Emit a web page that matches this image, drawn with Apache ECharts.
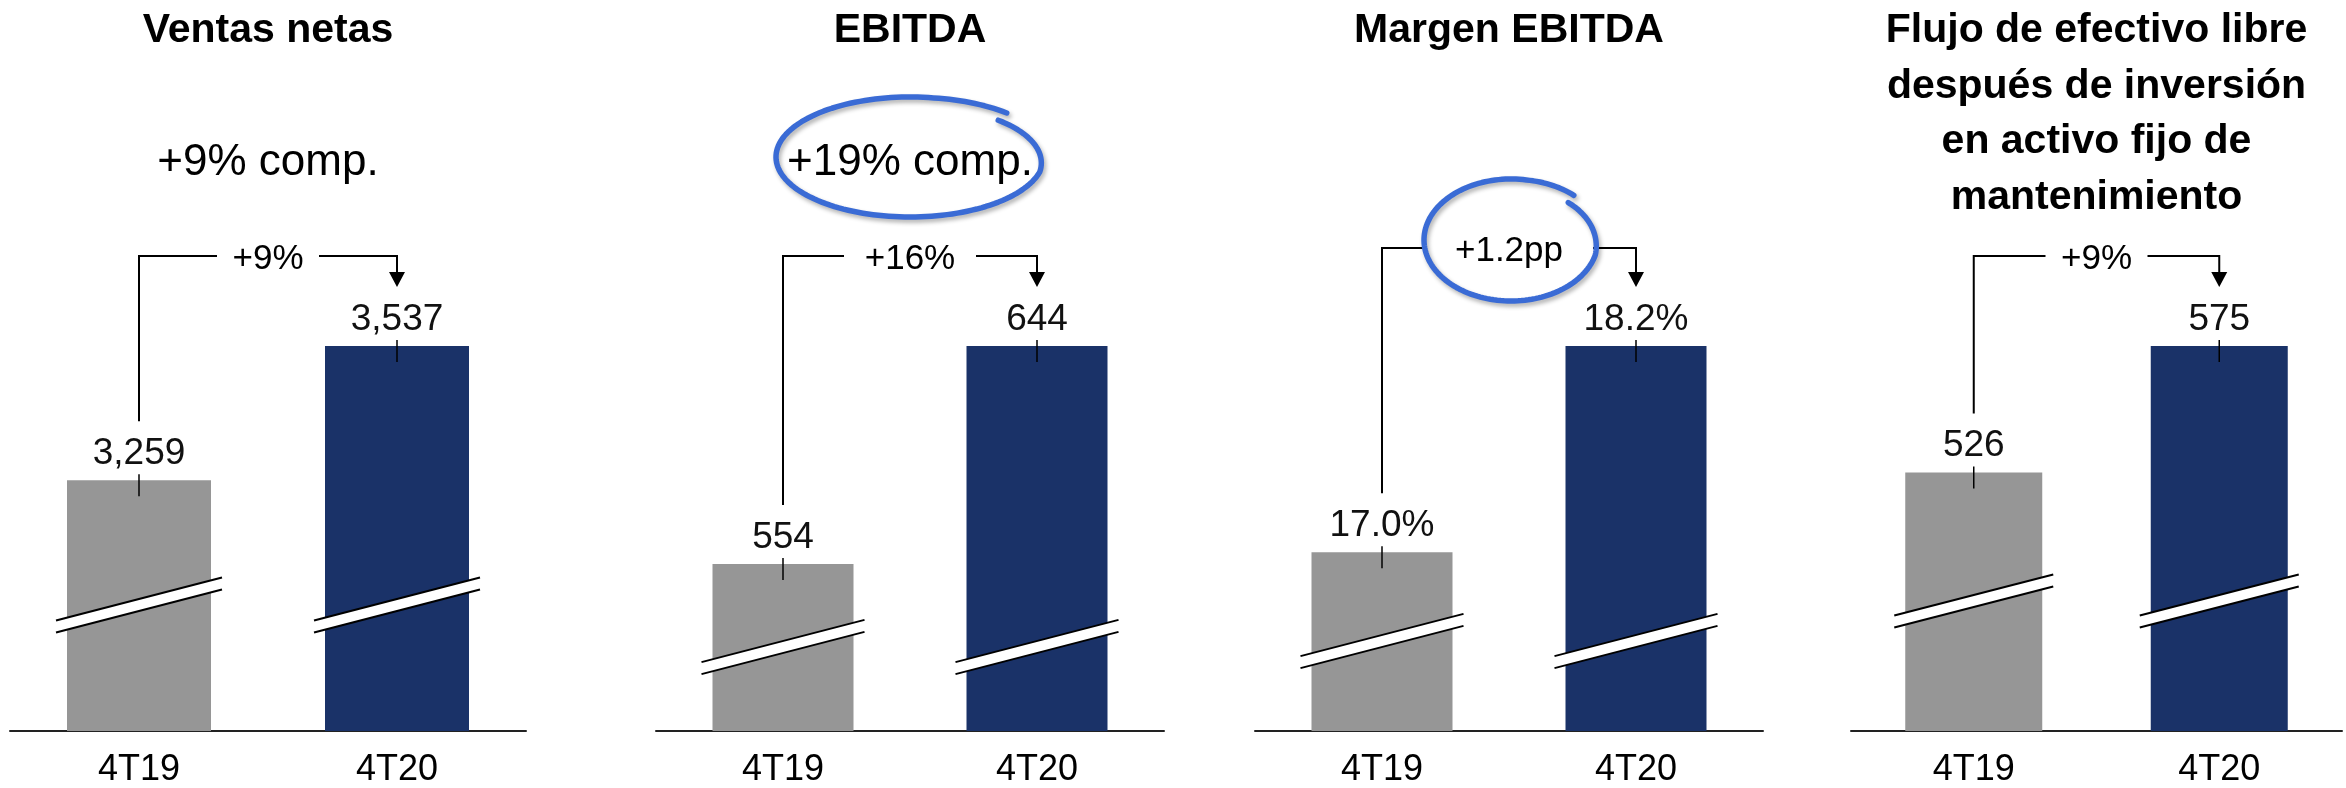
<!DOCTYPE html>
<html>
<head>
<meta charset="utf-8">
<style>
  html, body { margin: 0; padding: 0; background: #fff; }
  #chart { width: 2346px; height: 788px; }
</style>
<script src="https://cdn.jsdelivr.net/npm/echarts@6/dist/echarts.min.js"></script>
</head>
<body>
<div id="chart"></div>
<script>
// datos
const categories = ['4T19', '4T20'];
const ventasNetas = [3259, 3537];
const ebitda = [554, 644];
const margenEbitda = [17.0, 18.2];
const flujoLibre = [526, 575];
const titulos = [
    ['Ventas netas'],
    ['EBITDA'],
    ['Margen EBITDA'],
    ['Flujo de efectivo libre', 'después de inversión', 'en activo fijo de', 'mantenimiento']
];
const crecimientos = ['+9%', '+16%', '+1.2pp', '+9%'];
const comparables = ['+9% comp.', '+19% comp.', '', ''];
// eje cortado: valor en la base de cada panel
const ejeMin = [2740, 485, 15.96, 426];

const seriesValues = [ventasNetas, ebitda, margenEbitda, flujoLibre];
const formatos = [
    v => v.toLocaleString('en-US'),
    v => String(v),
    v => v.toFixed(1) + '%',
    v => String(v)
];

// layout de cada panel
const panels = [
    { left: 10, width: 516, barWidth: 144, bracketY: 256, gap: 51, breakOff: 126 },
    { left: 656, width: 508, barWidth: 141, bracketY: 256, gap: 66, breakOff: 84,
      ring: { on: 'comp', rx: 134, ry: 60, dx: 0, dy: -6 } },
    { left: 1255, width: 508, barWidth: 141, bracketY: 248, gap: 84, breakOff: 90,
      ring: { on: 'growth', rx: 87, ry: 61, dx: 2, dy: -11 } },
    { left: 1851, width: 491, barWidth: 137, bracketY: 256, gap: 51, breakOff: 130 }
];

const GRAY = '#969696';
const NAVY = '#1a3268';
const BLUE_RING = '#3a6bd5';
const FONT = '"Liberation Sans", Arial, sans-serif';

const chart = echarts.init(document.getElementById('chart'));

const option = {
    backgroundColor: '#fff',
    animation: false,
    grid: panels.map(p => ({ left: p.left, width: p.width, top: 346, bottom: 55 })),
    xAxis: panels.map((p, i) => ({
        type: 'category',
        gridIndex: i,
        data: categories,
        axisLine: { lineStyle: { color: '#222', width: 2 } },
        axisTick: { show: false },
        axisLabel: { color: '#000', fontSize: 36, fontFamily: FONT, margin: 21 }
    })),
    yAxis: panels.map((p, i) => ({
        type: 'value',
        gridIndex: i,
        min: ejeMin[i],
        max: 'dataMax',
        show: false,
        splitLine: { show: false }
    })),
    series: seriesValues.map((vals, i) => ({
        type: 'bar',
        xAxisIndex: i,
        yAxisIndex: i,
        barWidth: panels[i].barWidth,
        data: vals.map((v, k) => ({ value: v, itemStyle: { color: k === 0 ? GRAY : NAVY } })),
        label: {
            show: true,
            position: 'top',
            distance: 8,
            color: '#111',
            fontSize: 37,
            fontFamily: FONT,
            formatter: params => formatos[i](params.value)
        }
    }))
};

chart.setOption(option);

function txt(x, y, text, size, weight) {
    return {
        type: 'text', x: x, y: y, z: 100,
        style: {
            text: text, fill: '#000',
            font: (weight || 'normal') + ' ' + size + 'px ' + FONT,
            align: 'center', verticalAlign: 'middle',
            textAlign: 'center', textVerticalAlign: 'middle'
        }
    };
}

function line(x1, y1, x2, y2, w) {
    return {
        type: 'line', z: 100,
        shape: { x1: x1, y1: y1, x2: x2, y2: y2 },
        style: { stroke: '#000', lineWidth: w || 2 }
    };
}

// trazo a mano alzada alrededor de un texto
function ring(cx, cy, rx, ry) {
    const pts = [];
    const t0 = -0.75, t1 = -0.77 + Math.PI * 2;
    for (let t = t0; t <= t1; t += 0.04) {
        const k = Math.min(1, (t - t0) / 1.0);
        const s = 0.9 + 0.1 * k + (t > t1 - 0.6 ? 0.03 * (t - (t1 - 0.6)) / 0.6 : 0);
        pts.push([cx + rx * s * Math.cos(t), cy + ry * s * Math.sin(t)]);
    }
    return {
        type: 'polyline', z: 101,
        shape: { points: pts },
        style: {
            stroke: BLUE_RING, lineWidth: 5.5, fill: null, lineCap: 'round', lineJoin: 'round',
            shadowBlur: 4, shadowColor: 'rgba(0,0,0,0.3)', shadowOffsetX: 2, shadowOffsetY: 3
        }
    };
}

function buildGraphics() {
    const g = [];
    panels.forEach((p, i) => {
        const vals = seriesValues[i];
        const a = chart.convertToPixel({ seriesIndex: i }, [categories[0], vals[0]]);
        const b = chart.convertToPixel({ seriesIndex: i }, [categories[1], vals[1]]);
        const axisY = chart.convertToPixel({ seriesIndex: i }, [categories[0], ejeMin[i]])[1];
        const cx = p.left + p.width / 2;

        // títulos
        titulos[i].forEach((t, k) => g.push(txt(cx, 31 + k * 55.5, t, 41, 'bold')));
        if (comparables[i]) g.push(txt(cx, 163, comparables[i], 44));

        // marcas en la parte superior de cada barra
        [a, b].forEach(pt => g.push(line(pt[0], pt[1] - 6, pt[0], pt[1] + 16, 1.5)));

        // corte del eje
        [a, b].forEach(pt => {
            const hw = p.barWidth / 2 + 11;
            const dy = 0.259 * hw;
            const yc = axisY - p.breakOff;
            const x = pt[0];
            g.push({
                type: 'polygon', z: 100,
                shape: { points: [[x - hw, yc + dy - 6], [x + hw, yc - dy - 6], [x + hw, yc - dy + 6], [x - hw, yc + dy + 6]] },
                style: { fill: '#fff' }
            });
            g.push(line(x - hw, yc + dy - 6, x + hw, yc - dy - 6, 2));
            g.push(line(x - hw, yc + dy + 6, x + hw, yc - dy + 6, 2));
        });

        // flecha de crecimiento
        const by = p.bracketY;
        const mid = (a[0] + b[0]) / 2;
        const tipY = b[1] - 59;
        g.push({
            type: 'polyline', z: 100,
            shape: { points: [[a[0], a[1] - 59], [a[0], by], [mid - p.gap, by]] },
            style: { stroke: '#000', lineWidth: 2, fill: null }
        });
        g.push({
            type: 'polyline', z: 100,
            shape: { points: [[mid + p.gap, by], [b[0], by], [b[0], tipY - 14]] },
            style: { stroke: '#000', lineWidth: 2, fill: null }
        });
        g.push({
            type: 'polygon', z: 100,
            shape: { points: [[b[0] - 8, tipY - 15], [b[0] + 8, tipY - 15], [b[0], tipY]] },
            style: { fill: '#000' }
        });
        g.push(txt(mid, by + 3, crecimientos[i], 35));

        if (p.ring) {
            const rc = p.ring.on === 'comp' ? [cx, 163] : [mid, by + 3];
            g.push(ring(rc[0] + p.ring.dx, rc[1] + p.ring.dy, p.ring.rx, p.ring.ry));
        }
    });
    chart.setOption({ graphic: g });
}

buildGraphics();

window.addEventListener('resize', function () {
    chart.resize();
    buildGraphics();
});
</script>
</body>
</html>
